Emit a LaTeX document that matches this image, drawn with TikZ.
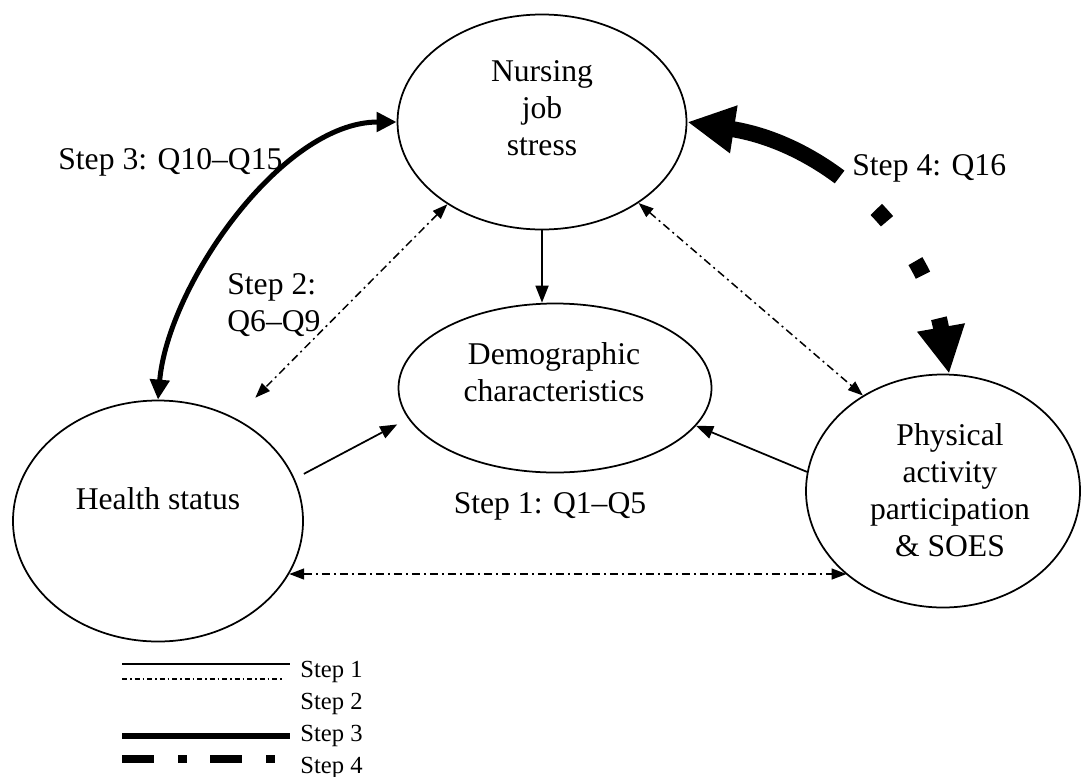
\documentclass[tikz,border=0pt]{standalone}
\usepackage{fontspec}
\setmainfont{Liberation Serif}
\usetikzlibrary{shapes.geometric,arrows.meta}

\tikzset{
	oval/.style={ellipse, draw, line width=0.35mm, inner sep=0pt},
	lbl/.style={font=\fontsize{18}{21}\selectfont, inner sep=0pt, align=center},
	legtext/.style={font=\fontsize{14}{16}\selectfont, inner sep=0pt, anchor=base west},
	% connector looks, one per step
	stepone/.style={line width=0.35mm},
	steptwo/.style={line width=0.3mm, dash pattern=on 1.6mm off 0.8mm on 0.4mm off 0.8mm},
	stepthree/.style={line width=1mm},
	stepfour/.style={line width=3.2mm, dash pattern=on 24mm off 9.8mm on 3.2mm off 9.8mm on 3.2mm off 9.2mm},
	legtwo/.style={line width=0.25mm, dash pattern=on 1mm off 0.6mm on 0.3mm off 0.6mm},
	legthree/.style={line width=1.2mm},
	legfour/.style={line width=1.6mm, dash pattern=on 6.4mm off 4.8mm on 1.8mm off 4.6mm},
	tipone/.tip={Triangle[length=3.4mm, width=2.6mm]},
	tiptwo/.tip={Triangle[length=3mm, width=2.2mm]},
	tipthree/.tip={Triangle[length=4mm, width=3.8mm]},
	tipfour/.tip={Triangle[length=9.4mm, width=9mm]},
}

\begin{document}
\begin{tikzpicture}[x=0.2mm, y=-0.2mm]

	\useasboundingbox (0,0) rectangle (1083,776);

	% =============================================
	%  OVALS
	% =============================================

	\node[oval, minimum width=57.8mm, minimum height=43mm] (nurse) at (542,122) {};
	\node[oval, minimum width=62.6mm, minimum height=33.8mm] (demo) at (555,388) {};
	\node[oval, minimum width=58mm, minimum height=48.2mm] (health) at (158,521) {};
	\node[oval, minimum width=54.8mm, minimum height=46.6mm] (phys) at (943,491) {};

	% texts sit a little above the oval centres
	\node[lbl] (nursetext) at (542,108) {Nursing\\job\\stress};
	\node[lbl] (demotext) at (554,372) {Demographic\\characteristics};
	\node[lbl] (healthtext) at (158,499) {Health status};
	\node[lbl] (phystext) at (950,490) {Physical\\activity\\participation\\\& SOES};

	% =============================================
	%  CONNECTORS
	% =============================================

	% --- Step 1 ---
	\draw[stepone, -tipone] (nurse.south) -- (nurse.south |- demo.north);
	\draw[stepone, -tipone] ([shift={(10,-3)}]health.18) -- ([shift={(-13,3)}]demo.193);
	\draw[stepone, -tipone] (phys.172) -- (demo.345);

	% --- Step 2 ---
	\draw[steptwo, tiptwo-tiptwo] (nurse.221) -- ([shift={(4,-30)}]health.45);
	\draw[steptwo, tiptwo-tiptwo] (nurse.320) -- (phys.130);
	\draw[steptwo, tiptwo-tiptwo] (health.338) -- (health.338 -| phys.221);

	% --- Step 3 ---
	\draw[stepthree, tipthree-tipthree] (nurse.west) to[out=180, in=85, looseness=0.8] (health.north);

	% --- Step 4 ---
	\draw[stepfour, tipfour-tipfour] (nurse.east) to[out=-9, in=100] (phys.87);

	% =============================================
	%  STEP LABELS
	% =============================================

	\node[lbl, anchor=base] (lblone) at (550,513) {Step 1: Q1–Q5};
	\node[lbl, anchor=west, align=left] (lbltwo) at (227,305) {Step 2:\\Q6–Q9};
	\node[lbl, anchor=base west] (lblthree) at (58,169) {Step 3: Q10–Q15};
	\node[lbl, anchor=base west] (lblfour) at (852,175) {Step 4: Q16};

	% =============================================
	%  LEGEND
	% =============================================

	\draw[stepone] (122,664) -- (290,664);
	\draw[legtwo] (122,679) -- (283,679);
	\draw[legthree] (122,736) -- (290,736);
	\draw[legfour] (122,759) -- (275,759);

	\node[legtext] (legone) at (300,677) {Step 1};
	\node[legtext] (legtwotext) at (300,709) {Step 2};
	\node[legtext] (legthreetext) at (300,741) {Step 3};
	\node[legtext] (legfourtext) at (300,773) {Step 4};

\end{tikzpicture}
\end{document}
